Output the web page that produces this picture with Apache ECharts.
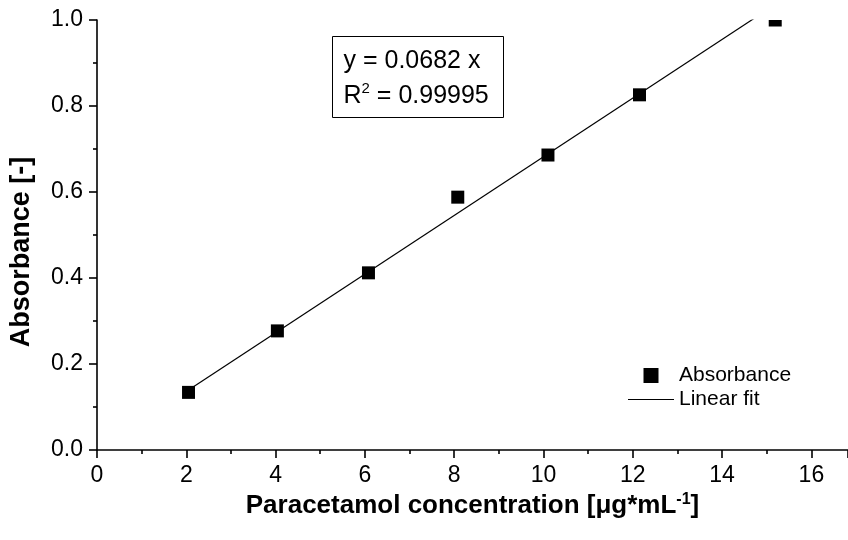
<!DOCTYPE html>
<html>
<head>
<meta charset="utf-8">
<script src="https://cdn.jsdelivr.net/npm/echarts@6/dist/echarts.min.js"></script>
<style>
  html, body { margin: 0; padding: 0; background: #ffffff; }
  #chart { width: 848px; height: 540px; }
</style>
</head>
<body>
<div id="chart"></div>
<script>
// Calibration standards: concentration (µg/mL) and measured absorbance
const concentration = [2.05, 4.04, 6.08, 8.08, 10.1, 12.15, 15.19];
const absorbance = [0.134, 0.277, 0.412, 0.588, 0.686, 0.826, 1.0];

// Linear fit through the origin, as reported in the equation box
const fitSlope = 0.0682;
const fitRange = [2.05, 15.19];

// Axis ticks
const xTicks = [0, 2, 4, 6, 8, 10, 12, 14, 16];
const yTicks = [0.0, 0.2, 0.4, 0.6, 0.8, 1.0];

const FONT = '"Liberation Sans", Arial, sans-serif';

const chart = echarts.init(document.getElementById('chart'), null, { renderer: 'canvas' });

const pointData = concentration.map((c, i) => [c, absorbance[i]]);
const fitData = fitRange.map(x => [x, fitSlope * x]);

const option = {
  backgroundColor: '#ffffff',
  animation: false,
  grid: { left: 97, right: 0, top: 20, bottom: 90, containLabel: false },
  xAxis: {
    type: 'value',
    min: xTicks[0],
    max: 16.82,
    interval: 2,
    name: 'Paracetamol concentration [μg*mL{sup|-1}]',
    nameLocation: 'middle',
    nameGap: 39,
    nameTextStyle: {
      fontFamily: FONT, fontSize: 26, fontWeight: 'bold', color: '#000',
      rich: {
        sup: { fontFamily: FONT, fontSize: 16, fontWeight: 'bold', color: '#000', verticalAlign: 'top', padding: [0, 0, 12, 0] }
      }
    },
    axisLine: { show: true, onZero: false, lineStyle: { color: '#000', width: 1.6 } },
    axisTick: { show: true, inside: false, length: 8, lineStyle: { color: '#000', width: 1.6 } },
    minorTick: { show: true, splitNumber: 2, length: 4, lineStyle: { color: '#000', width: 1.6 } },
    axisLabel: {
      show: true, margin: 14, color: '#000', fontFamily: FONT, fontSize: 23,
      showMaxLabel: false,
      formatter: v => (xTicks.indexOf(v) >= 0 ? String(v) : '')
    },
    splitLine: { show: false }
  },
  yAxis: {
    type: 'value',
    min: yTicks[0],
    max: yTicks[yTicks.length - 1],
    interval: 0.2,
    name: 'Absorbance [-]',
    nameLocation: 'middle',
    nameGap: 62,
    nameTextStyle: { fontFamily: FONT, fontSize: 27, fontWeight: 'bold', color: '#000', padding: [0, 34, 0, 0] },
    axisLine: { show: true, onZero: false, lineStyle: { color: '#000', width: 1.6 } },
    axisTick: { show: true, inside: false, length: 8, lineStyle: { color: '#000', width: 1.6 } },
    minorTick: { show: true, splitNumber: 2, length: 4, lineStyle: { color: '#000', width: 1.6 } },
    axisLabel: {
      show: true, margin: 14, color: '#000', fontFamily: FONT, fontSize: 23,
      formatter: v => v.toFixed(1)
    },
    splitLine: { show: false }
  },
  legend: {
    orient: 'vertical',
    left: 623,
    top: 360,
    itemWidth: 46,
    itemHeight: 15,
    itemGap: 3,
    textStyle: { fontFamily: FONT, fontSize: 21, color: '#000' },
    data: [
      { name: 'Absorbance', icon: 'path://M0 0H1V1H0Z' },
      { name: 'Linear fit', icon: 'path://M0 0H46V1.2H0Z' }
    ]
  },
  graphic: [
    {
      type: 'group',
      left: 332,
      top: 36,
      children: [
        {
          type: 'rect',
          shape: { x: 0, y: 0, width: 171, height: 81 },
          style: { fill: '#fff', stroke: '#000', lineWidth: 1 }
        },
        {
          type: 'text',
          x: 11, y: 7,
          style: {
            text: 'y = 0.0682 x\nR{sup|2} = 0.99995',
            fontFamily: FONT, fontSize: 25, fill: '#000', lineHeight: 35,
            rich: {
              sup: { fontFamily: FONT, fontSize: 15, fill: '#000', lineHeight: 35, padding: [0, 0, 15, 0] }
            }
          }
        }
      ]
    }
  ],
  series: [
    {
      name: 'Linear fit',
      type: 'line',
      data: fitData,
      symbol: 'none',
      clip: true,
      lineStyle: { color: '#000', width: 1.2 },
      itemStyle: { color: '#000' },
      z: 2
    },
    {
      name: 'Absorbance',
      type: 'custom',
      data: pointData,
      clip: true,
      itemStyle: { color: '#000' },
      renderItem: (params, api) => {
        const p = api.coord([api.value(0), api.value(1)]);
        const s = 13;
        return {
          type: 'rect',
          shape: { x: p[0] - s / 2, y: p[1] - s / 2, width: s, height: s },
          style: { fill: '#000' }
        };
      },
      z: 3
    }
  ]
};

chart.setOption(option);
</script>
</body>
</html>
